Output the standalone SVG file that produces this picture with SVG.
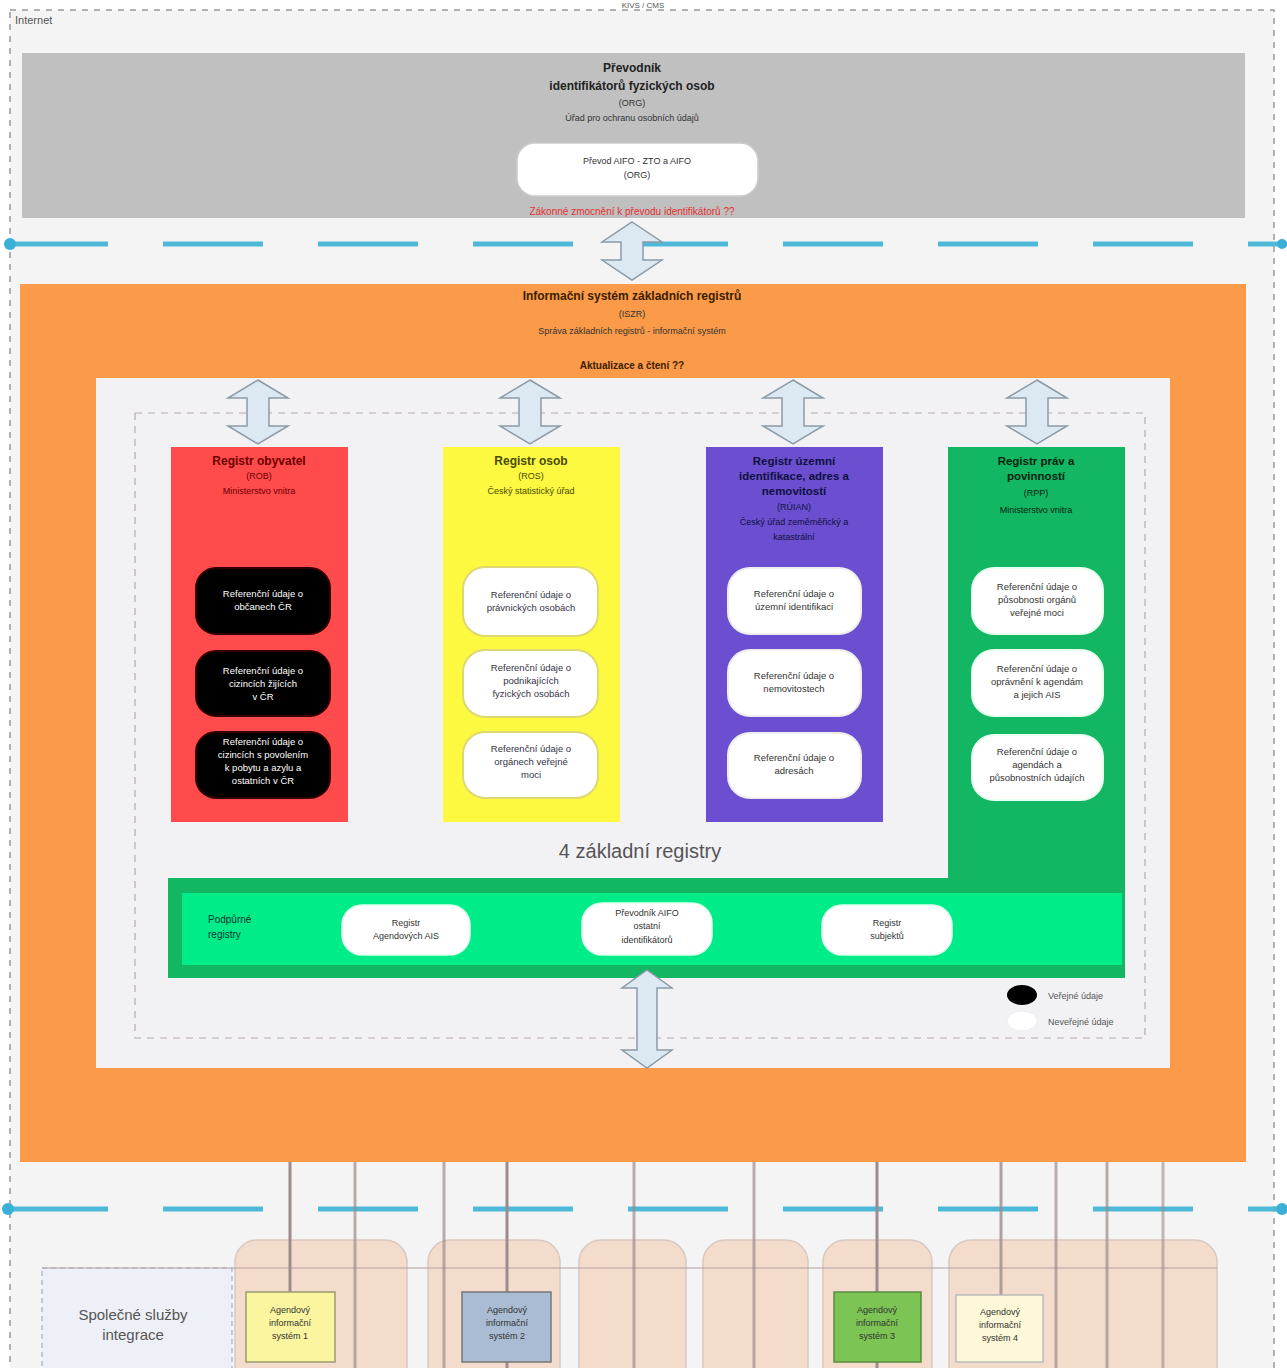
<svg xmlns="http://www.w3.org/2000/svg" width="1287" height="1368" viewBox="0 0 1287 1368">
<defs>
<style>
text{font-family:"Liberation Sans",Arial,sans-serif;text-anchor:middle}
.t{font-size:10px;fill:#333}
.tb{font-size:12px;font-weight:bold;fill:#222}
.s{font-size:9px;fill:#333}
.dbl{fill:#dce9f2;stroke:#8a9aa6;stroke-width:1.5}
.wbox{fill:#fff;stroke:#ddd;stroke-width:2}
.bbox{fill:#000;stroke:#300;stroke-width:2}
.bt{font-size:9.5px;fill:#fff}
.vl{stroke:#9c8c8c;stroke-width:3}
.peach{fill:#f4dccd;stroke:#d8c8c0;stroke-width:1.5}
.cy{stroke:#4db8d8;stroke-width:5;stroke-dasharray:100 55;fill:none}
</style>
</defs>
<rect x="0" y="0" width="1287" height="1368" fill="#fff"/>
<!-- outer container -->
<g id="outer">
<rect x="10" y="10" width="1264" height="1380" fill="#f4f4f4" stroke="#999" stroke-width="1.5" stroke-dasharray="6 6"/>
<text x="15" y="24" style="text-anchor:start;font-size:11px;fill:#555">Internet</text>
<text x="643" y="8" style="font-size:8px;fill:#555">KIVS / CMS</text>
</g>
<!-- gray ORG box -->
<g id="org">
<rect x="22" y="53" width="1223" height="165" fill="#c0c0c0"/>
<text x="632" y="72" class="tb">Převodník</text>
<text x="632" y="90" class="tb">identifikátorů fyzických osob</text>
<text x="632" y="106" class="s">(ORG)</text>
<text x="632" y="121" class="s">Úřad pro ochranu osobních údajů</text>
<rect x="517" y="143" width="241" height="53" rx="18" fill="#fff" stroke="#ccc" stroke-width="1.5"/>
<text x="637" y="164" class="s">Převod AIFO - ZTO a AIFO</text>
<text x="637" y="178" class="s">(ORG)</text>
<text x="632" y="215" style="font-size:10px;fill:#e23030">Zákonné zmocnění k převodu identifikátorů ??</text>
</g>
<!-- cyan dashed boundaries -->
<g id="boundaries">
<line x1="8" y1="244" x2="1287" y2="244" class="cy"/>
<circle cx="10" cy="244" r="6" fill="#3ab0d6"/>
<circle cx="1282" cy="244" r="5" fill="#3ab0d6"/>
<line x1="8" y1="1209" x2="1287" y2="1209" class="cy"/>
<circle cx="8" cy="1209" r="6" fill="#3ab0d6"/>
<circle cx="1282" cy="1209" r="6" fill="#3ab0d6"/>
</g>
<!-- ISZR orange -->
<g id="iszr">
<rect x="20" y="284" width="1226" height="878" fill="#fb9a48"/>
<text x="632" y="300" style="font-size:12px;font-weight:bold;fill:#3a2000">Informační systém základních registrů</text>
<text x="632" y="317" class="s">(ISZR)</text>
<text x="632" y="334" class="s">Správa základních registrů - informační systém</text>
<text x="632" y="369" style="font-size:10px;font-weight:bold;fill:#3a2000">Aktualizace a čtení ??</text>
<rect x="96" y="378" width="1074" height="690" fill="#f2f2f5"/>
<rect x="135" y="413" width="1010" height="625" fill="none" stroke="#b8a8b0" stroke-width="1.2" stroke-dasharray="7 6"/>
</g>
<!-- Registr obyvatel -->
<g id="rob">
<rect x="171" y="447" width="177" height="375" fill="#ff4b4b"/>
<text x="259" y="465" style="font-size:12px;font-weight:bold;fill:#6a0000">Registr obyvatel</text>
<text x="259" y="479" style="font-size:9px;fill:#6a0000">(ROB)</text>
<text x="259" y="494" style="font-size:9px;fill:#6a0000">Ministerstvo vnitra</text>
<rect x="196" y="568" width="134" height="66" rx="20" class="bbox"/>
<text x="263" y="597" class="bt">Referenční údaje o</text>
<text x="263" y="610" class="bt">občanech ČR</text>
<rect x="196" y="651" width="134" height="65" rx="20" class="bbox"/>
<text x="263" y="674" class="bt">Referenční údaje o</text>
<text x="263" y="687" class="bt">cizincích žijících</text>
<text x="263" y="700" class="bt">v ČR</text>
<rect x="196" y="732" width="134" height="66" rx="20" class="bbox"/>
<text x="263" y="745" class="bt">Referenční údaje o</text>
<text x="263" y="758" class="bt">cizincích s povolením</text>
<text x="263" y="771" class="bt">k pobytu a azylu a</text>
<text x="263" y="784" class="bt">ostatních v ČR</text>
</g>
<!-- Registr osob -->
<g id="ros">
<rect x="443" y="447" width="177" height="375" fill="#fcf940"/>
<text x="531" y="465" style="font-size:12px;font-weight:bold;fill:#4a4a00">Registr osob</text>
<text x="531" y="479" style="font-size:9px;fill:#4a4a00">(ROS)</text>
<text x="531" y="494" style="font-size:9px;fill:#4a4a00">Český statistický úřad</text>
<rect x="463" y="567" width="135" height="69" rx="22" fill="#fff" stroke="#ddd870" stroke-width="2"/>
<text x="531" y="598" style="font-size:9.5px;fill:#334">Referenční údaje o</text>
<text x="531" y="611" style="font-size:9.5px;fill:#334">právnických osobách</text>
<rect x="463" y="650" width="135" height="67" rx="22" fill="#fff" stroke="#ddd870" stroke-width="2"/>
<text x="531" y="671" style="font-size:9.5px;fill:#334">Referenční údaje o</text>
<text x="531" y="684" style="font-size:9.5px;fill:#334">podnikajících</text>
<text x="531" y="697" style="font-size:9.5px;fill:#334">fyzických osobách</text>
<rect x="463" y="732" width="135" height="66" rx="22" fill="#fff" stroke="#ddd870" stroke-width="2"/>
<text x="531" y="752" style="font-size:9.5px;fill:#334">Referenční údaje o</text>
<text x="531" y="765" style="font-size:9.5px;fill:#334">orgánech veřejné</text>
<text x="531" y="778" style="font-size:9.5px;fill:#334">moci</text>
</g>
<!-- RUIAN -->
<g id="ruian">
<rect x="706" y="447" width="177" height="375" fill="#6b4fd0"/>
<text x="794" y="465" style="font-size:11.5px;font-weight:bold;fill:#101040">Registr územní</text>
<text x="794" y="480" style="font-size:11.5px;font-weight:bold;fill:#101040">identifikace, adres a</text>
<text x="794" y="495" style="font-size:11.5px;font-weight:bold;fill:#101040">nemovitostí</text>
<text x="794" y="510" style="font-size:9px;fill:#101040">(RÚIAN)</text>
<text x="794" y="525" style="font-size:9px;fill:#101040">Český úřad zeměměřický a</text>
<text x="794" y="540" style="font-size:9px;fill:#101040">katastrální</text>
<rect x="728" y="568" width="133" height="66" rx="22" fill="#fff" stroke="#eee" stroke-width="2"/>
<text x="794" y="597" style="font-size:9.5px;fill:#333">Referenční údaje o</text>
<text x="794" y="610" style="font-size:9.5px;fill:#333">územní identifikaci</text>
<rect x="728" y="650" width="133" height="66" rx="22" fill="#fff" stroke="#eee" stroke-width="2"/>
<text x="794" y="679" style="font-size:9.5px;fill:#333">Referenční údaje o</text>
<text x="794" y="692" style="font-size:9.5px;fill:#333">nemovitostech</text>
<rect x="728" y="733" width="133" height="65" rx="22" fill="#fff" stroke="#eee" stroke-width="2"/>
<text x="794" y="761" style="font-size:9.5px;fill:#333">Referenční údaje o</text>
<text x="794" y="774" style="font-size:9.5px;fill:#333">adresách</text>
</g>
<!-- RPP + podpurne -->
<g id="rpp">
<path d="M948 447 H1125 V978 H168 V878 H948 Z" fill="#12b663"/>
<rect x="182" y="893" width="940" height="72" fill="#00ec88"/>
<text x="1036" y="465" style="font-size:11.5px;font-weight:bold;fill:#04240f">Registr práv a</text>
<text x="1036" y="480" style="font-size:11.5px;font-weight:bold;fill:#04240f">povinností</text>
<text x="1036" y="496" style="font-size:9px;fill:#04240f">(RPP)</text>
<text x="1036" y="513" style="font-size:9px;fill:#04240f">Ministerstvo vnitra</text>
<rect x="972" y="568" width="131" height="66" rx="22" fill="#fff" stroke="#e8fff0" stroke-width="2"/>
<text x="1037" y="590" style="font-size:9.5px;fill:#333">Referenční údaje o</text>
<text x="1037" y="603" style="font-size:9.5px;fill:#333">působnosti orgánů</text>
<text x="1037" y="616" style="font-size:9.5px;fill:#333">veřejné moci</text>
<rect x="972" y="650" width="131" height="66" rx="22" fill="#fff" stroke="#e8fff0" stroke-width="2"/>
<text x="1037" y="672" style="font-size:9.5px;fill:#333">Referenční údaje o</text>
<text x="1037" y="685" style="font-size:9.5px;fill:#333">oprávnění k agendám</text>
<text x="1037" y="698" style="font-size:9.5px;fill:#333">a jejich AIS</text>
<rect x="972" y="735" width="131" height="65" rx="22" fill="#fff" stroke="#e8fff0" stroke-width="2"/>
<text x="1037" y="755" style="font-size:9.5px;fill:#333">Referenční údaje o</text>
<text x="1037" y="768" style="font-size:9.5px;fill:#333">agendách a</text>
<text x="1037" y="781" style="font-size:9.5px;fill:#333">působnostních údajích</text>
</g>
<g id="podpurne">
<text x="208" y="923" style="text-anchor:start;font-size:10px;fill:#033">Podpůrné</text>
<text x="208" y="938" style="text-anchor:start;font-size:10px;fill:#033">registry</text>
<rect x="342" y="905" width="128" height="50" rx="20" fill="#fff" stroke="#dfe" stroke-width="1.5"/>
<text x="406" y="926" class="s">Registr</text>
<text x="406" y="939" class="s">Agendových AIS</text>
<rect x="582" y="903" width="130" height="52" rx="20" fill="#fff" stroke="#dfe" stroke-width="1.5"/>
<text x="647" y="916" class="s">Převodník AIFO</text>
<text x="647" y="929" class="s">ostatní</text>
<text x="647" y="943" class="s">identifikátorů</text>
<rect x="822" y="905" width="130" height="50" rx="20" fill="#fff" stroke="#dfe" stroke-width="1.5"/>
<text x="887" y="926" class="s">Registr</text>
<text x="887" y="939" class="s">subjektů</text>
</g>
<g id="label4">
<text x="640" y="858" style="font-size:20px;fill:#555">4 základní registry</text>
</g>
<!-- legend -->
<g id="legend">
<ellipse cx="1022" cy="995" rx="15" ry="10" fill="#000"/>
<text x="1048" y="999" style="text-anchor:start;font-size:9px;fill:#555">Veřejné údaje</text>
<ellipse cx="1022" cy="1021" rx="15" ry="10" fill="#fff" stroke="#eee"/>
<text x="1048" y="1025" style="text-anchor:start;font-size:9px;fill:#555">Neveřejné údaje</text>
</g>
<!-- bottom region -->
<g id="bottom-containers">
<rect x="42" y="1268" width="190" height="120" fill="#eef0f7" stroke="#a8a8c0" stroke-width="1.2" stroke-dasharray="5 4"/>
<text x="133" y="1320" style="font-size:15px;fill:#555">Společné služby</text>
<text x="133" y="1340" style="font-size:15px;fill:#555">integrace</text>
<rect x="235" y="1240" width="172" height="160" rx="22" class="peach"/>
<rect x="428" y="1240" width="132" height="160" rx="22" class="peach"/>
<rect x="579" y="1240" width="107" height="160" rx="22" class="peach"/>
<rect x="703" y="1240" width="105" height="160" rx="22" class="peach"/>
<rect x="823" y="1240" width="109" height="160" rx="22" class="peach"/>
<rect x="949" y="1240" width="268" height="160" rx="22" class="peach"/>
<line x1="42" y1="1268" x2="1217" y2="1268" stroke="#b0a0a0" stroke-width="1"/>
</g>
<g id="connectors">
<path class="dbl" d="M632 222 L662 242 L643 242 L643 260 L662 260 L632 280 L602 260 L621 260 L621 242 L602 242 Z"/>
<path class="dbl" d="M258 380 L288 398 L269 398 L269 426 L288 426 L258 444 L228 426 L247 426 L247 398 L228 398 Z"/>
<path class="dbl" d="M530 380 L560 398 L541 398 L541 426 L560 426 L530 444 L500 426 L519 426 L519 398 L500 398 Z"/>
<path class="dbl" d="M793 380 L823 398 L804 398 L804 426 L823 426 L793 444 L763 426 L782 426 L782 398 L763 398 Z"/>
<path class="dbl" d="M1037 380 L1067 398 L1048 398 L1048 426 L1067 426 L1037 444 L1007 426 L1026 426 L1026 398 L1007 398 Z"/>
<path class="dbl" d="M647 970 L672 988 L657 988 L657 1050 L672 1050 L647 1068 L622 1050 L637 1050 L637 988 L622 988 Z"/>
<line x1="290" y1="1162" x2="290" y2="1292" class="vl"/>
<line x1="355" y1="1162" x2="355" y2="1368" class="vl" stroke-opacity="0.7"/>
<line x1="444" y1="1162" x2="444" y2="1368" class="vl" stroke-opacity="0.7"/>
<line x1="507" y1="1162" x2="507" y2="1292" class="vl"/>
<line x1="507" y1="1362" x2="507" y2="1368" class="vl"/>
<line x1="634" y1="1162" x2="634" y2="1368" class="vl" stroke-opacity="0.7"/>
<line x1="754" y1="1162" x2="754" y2="1368" class="vl" stroke-opacity="0.7"/>
<line x1="877" y1="1162" x2="877" y2="1292" class="vl"/>
<line x1="877" y1="1362" x2="877" y2="1368" class="vl"/>
<line x1="1001" y1="1162" x2="1001" y2="1295" class="vl" stroke-opacity="0.8"/>
<line x1="1056" y1="1162" x2="1056" y2="1368" class="vl" stroke-opacity="0.7"/>
<line x1="1107" y1="1162" x2="1107" y2="1368" class="vl" stroke-opacity="0.7"/>
<line x1="1163" y1="1162" x2="1163" y2="1368" class="vl" stroke-opacity="0.6"/>
</g>
<g id="ais1">
<rect x="246" y="1292" width="89" height="70" fill="#fbf5a0" stroke="#9a9a70" stroke-width="1.5"/>
<text x="290" y="1313" class="s">Agendový</text>
<text x="290" y="1326" class="s">informační</text>
<text x="290" y="1339" class="s">systém 1</text>
</g>
<g id="ais2">
<rect x="462" y="1292" width="89" height="70" fill="#a9bcd4" stroke="#777" stroke-width="1.5"/>
<text x="507" y="1313" class="s">Agendový</text>
<text x="507" y="1326" class="s">informační</text>
<text x="507" y="1339" class="s">systém 2</text>
</g>
<g id="ais3">
<rect x="834" y="1292" width="87" height="70" fill="#7cc453" stroke="#5a8a40" stroke-width="1.5"/>
<text x="877" y="1313" class="s">Agendový</text>
<text x="877" y="1326" class="s">informační</text>
<text x="877" y="1339" class="s">systém 3</text>
</g>
<g id="ais4">
<rect x="956" y="1295" width="87" height="67" fill="#fdf8d8" stroke="#bbb" stroke-width="1.5"/>
<text x="1000" y="1315" class="s">Agendový</text>
<text x="1000" y="1328" class="s">informační</text>
<text x="1000" y="1341" class="s">systém 4</text>
</g>
</svg>
